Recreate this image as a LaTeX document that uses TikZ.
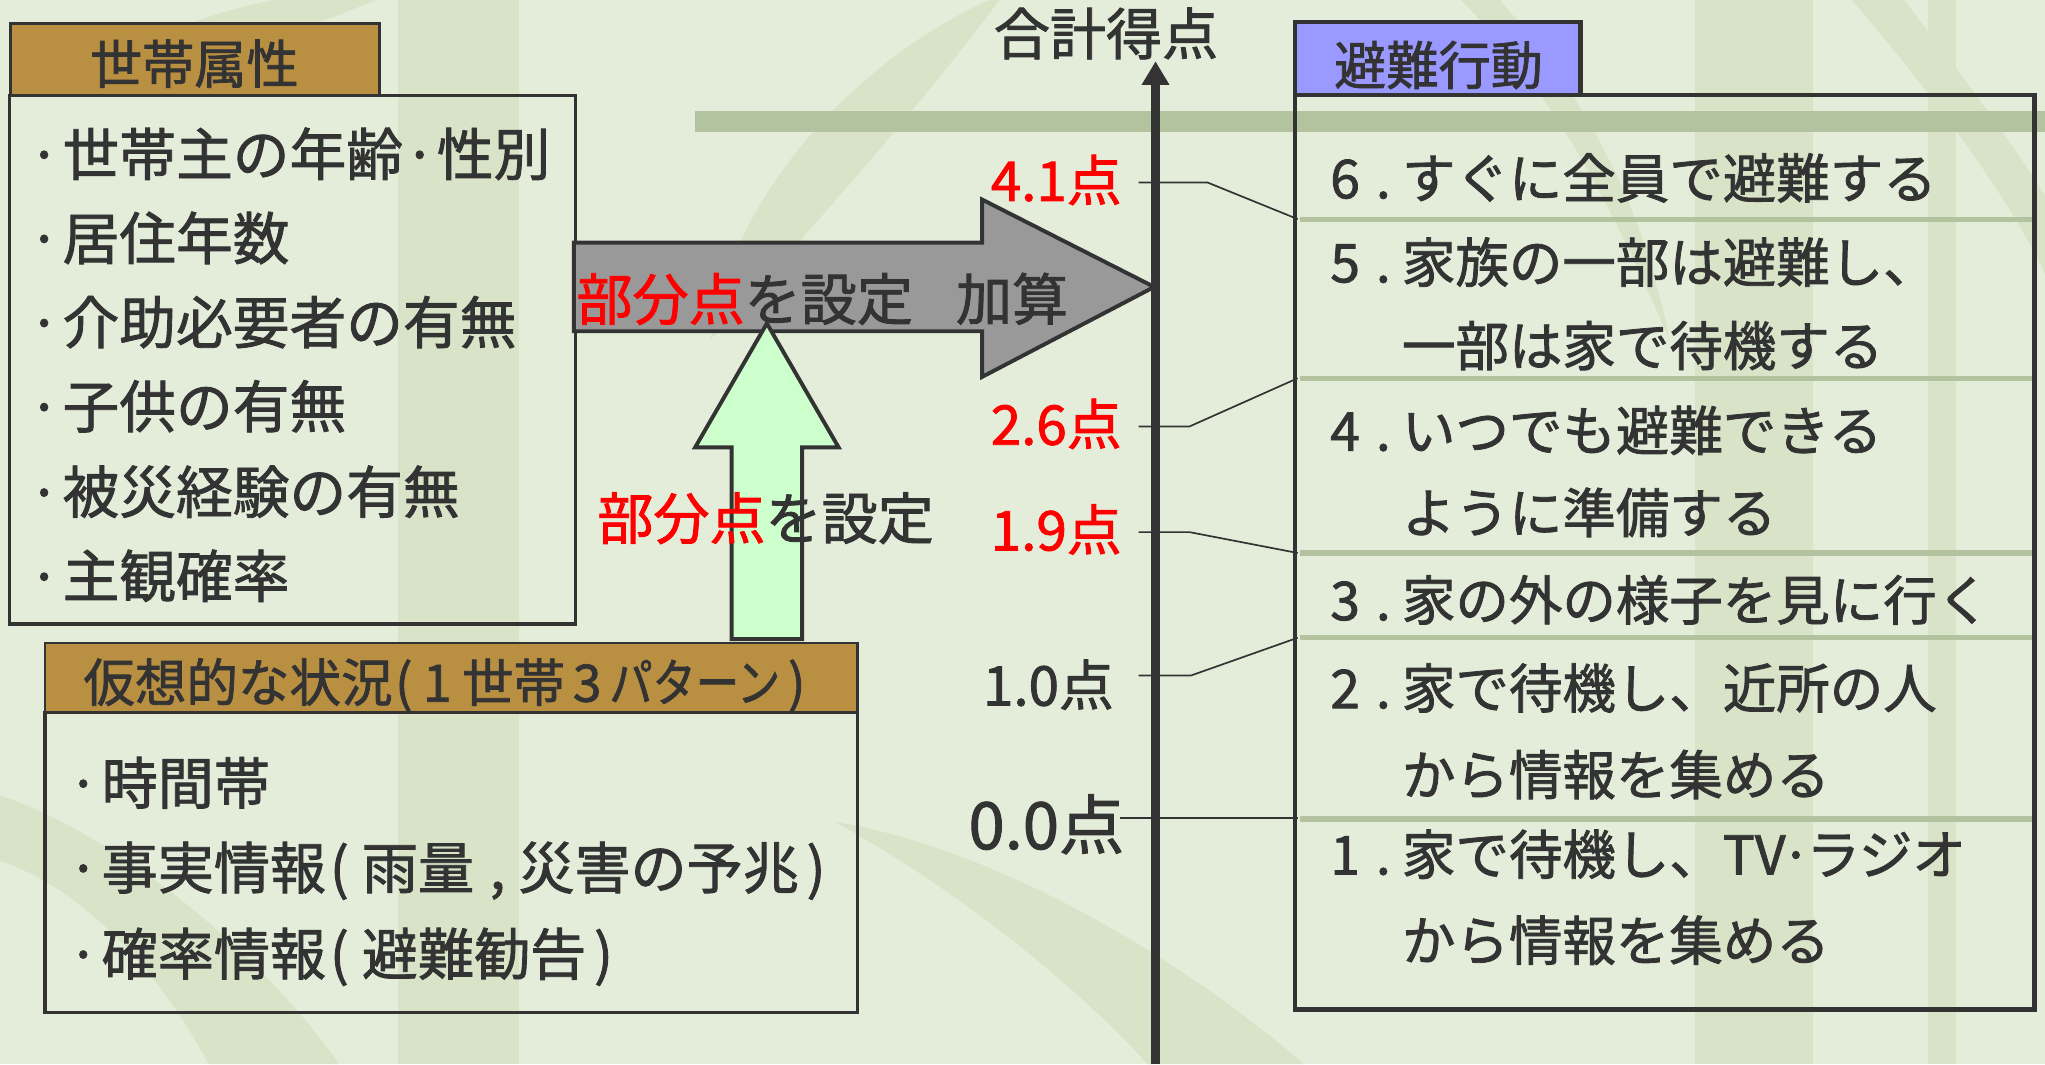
\documentclass[tikz,border=0pt]{standalone}
\usepackage{graphicx}
\usepackage{fontspec}
\setmainfont{Noto Sans CJK JP}[FakeBold=1.5]
\usetikzlibrary{arrows.meta}
\definecolor{bg}{HTML}{E4EDDA}
\definecolor{bamboo}{HTML}{D8E3C7}
\definecolor{band}{HTML}{B3C3A0}
\definecolor{ink}{HTML}{333333}
\definecolor{hdrbrown}{HTML}{B98F41}
\definecolor{hdrblue}{HTML}{9999FF}
\definecolor{arrgray}{HTML}{999999}
\definecolor{arrgreen}{HTML}{CCFFCC}
\newcommand\fsz[1]{\fontsize{#1pt}{#1pt}\selectfont}
\newcommand\rd[1]{\textcolor{red}{#1}}
\newcommand\dt{\makebox[16pt]{·}\hspace{6pt}}
\newcommand\md{\makebox[26pt]{·}}
\newcommand\rn[1]{\makebox[55pt][l]{\makebox[35pt][l]{#1}.}}
\begin{document}
\begin{tikzpicture}[x=1pt,y=-1pt,
  every node/.style={inner sep=0pt,outer sep=0pt,text=ink},
  hdrbox/.style={draw=ink,line width=2pt,anchor=north west},
  bodybox/.style={draw=ink,line width=2.5pt,anchor=north west},
  rbox/.style={draw=ink,line width=3.5pt,anchor=north west},
  item/.style={anchor=base west,font=\fsz{43.5}},
  itemb/.style={anchor=base west,font=\fsz{43}},
  rowtxt/.style={anchor=base west,font=\fsz{41}},
  score/.style={anchor=base east,font=\fsz{42}},
  sepline/.style={draw=band,line width=4pt},
  tickline/.style={draw=ink,line width=1.3pt},
  blockarrow/.style={draw=ink,line width=3pt,line join=miter}
]
\useasboundingbox (0,0) rectangle (1568,816);
\fill[bg] (0,0) rectangle (1568,816);
% faint bamboo decoration
\fill[bamboo] (305,0) rectangle (398,816);
\fill[bamboo] (1300,0) rectangle (1390,816);
\fill[bamboo] (1478,0) rectangle (1500,816);
\fill[bamboo] (60,60) .. controls (150,5) and (230,-10) .. (300,-5) .. controls (230,25) and (140,55) .. (60,60);
\fill[bamboo] (545,260) .. controls (560,150) and (660,40) .. (770,-5) .. controls (700,90) and (600,200) .. (545,260);
\fill[bamboo] (0,610) .. controls (90,640) and (200,730) .. (260,816) -- (160,816) .. controls (120,740) and (60,680) .. (0,660) -- cycle;
\fill[bamboo] (640,630) .. controls (760,650) and (900,730) .. (1000,816) -- (880,816) .. controls (820,750) and (730,680) .. (640,630);
\fill[bamboo] (1150,0) .. controls (1220,80) and (1260,160) .. (1280,260) .. controls (1240,170) and (1200,80) .. (1120,0) -- cycle;
\fill[bamboo] (1420,0) .. controls (1480,70) and (1540,150) .. (1568,210) -- (1568,150) .. controls (1530,90) and (1490,40) .. (1460,0) -- cycle;
% horizontal band
\fill[band] (533,85) rectangle (1568,101);
% boxes
\node[hdrbox,fill=hdrbrown,minimum width=283pt,minimum height=55pt] (attrhdr) at (8,18) {};
\node[bodybox,minimum width=434pt,minimum height=405pt] (attrbody) at (7.5,73.5) {};
\node[hdrbox,fill=hdrbrown,minimum width=623pt,minimum height=53.5pt] (sithdr) at (34.5,493) {};
\node[bodybox,minimum width=623pt,minimum height=230pt] (sitbody) at (34.5,546.5) {};
\node[rbox,fill=hdrblue,minimum width=219pt,minimum height=56pt] (acthdr) at (993,17) {};
\node[rbox,minimum width=567pt,minimum height=701pt] (actbody) at (993,73) {};
% separators in the action box
\foreach \yy/\nn in {168/a,290/b,424/c,489/d,628/e}{
  \coordinate (sl\nn) at (995,\yy);
  \coordinate (sr\nn) at (1558,\yy);
  \draw[sepline] (997,\yy) -- (sr\nn);
}
% block arrows
\draw[blockarrow,fill=arrgray] (440,186) -- (753,186) -- (753,153) -- (885,220) -- (753,289) -- (753,254) -- (440,254) -- cycle;
\draw[blockarrow,fill=arrgreen] (561,490) -- (561,343) -- (533,343) -- (588,248) -- (643,343) -- (615,343) -- (615,490) -- cycle;
% axis
\coordinate (axbot) at (886,816);
\coordinate (axtop) at (886,47);
\draw[draw=ink,line width=7pt,-{Triangle[width=20pt,length=18pt]}] (axbot) -- (axtop);
% score ticks
\coordinate (k41a) at (873,140); \coordinate (k41b) at (926,140);
\coordinate (k26a) at (873,327); \coordinate (k26b) at (912,327);
\coordinate (k19a) at (873,408); \coordinate (k19b) at (912,408);
\coordinate (k10a) at (873,518); \coordinate (k10b) at (913,518);
\coordinate (k00a) at (859,627); \coordinate (k00b) at (995,627);
\draw[tickline] (k41a) -- (k41b) -- (sla);
\draw[tickline] (k26a) -- (k26b) -- (slb);
\draw[tickline] (k19a) -- (k19b) -- (slc);
\draw[tickline] (k10a) -- (k10b) -- (sld);
\draw[tickline] (k00a) -- (k00b);
% texts: household attributes
\node[anchor=base,font=\fsz{40}] (attrtitle) at (149,64) {世帯属性};
\node[item] (a1) at (26,134.5) {\dt 世帯主の年齢\md 性別};
\node[item] (a2) at (26,199) {\dt 居住年数};
\node[item] (a3) at (26,263.5) {\dt 介助必要者の有無};
\node[item] (a4) at (26,328) {\dt 子供の有無};
\node[item] (a5) at (26,393.5) {\dt 被災経験の有無};
\node[item] (a6) at (26,458) {\dt 主観確率};
% situation box
\node[anchor=base west,font=\fsz{39.5}] (sittitle) at (64,538) {仮想的な状況\hspace{2pt}(\hspace{8pt}1\hspace{8pt}世帯\hspace{6pt}3\hspace{6pt}\scalebox{0.84}[1]{パターン}\hspace{6pt})};
\node[itemb] (b1) at (56,616.5) {\dt 時間帯};
\node[itemb] (b2) at (56,681.5) {\dt 事実情報\hspace{3pt}(\hspace{10pt}雨量\hspace{12pt},\hspace{10pt}災害の予兆\hspace{6pt})};
\node[itemb] (b3) at (56,747.5) {\dt 確率情報\hspace{3pt}(\hspace{10pt}避難勧告\hspace{6pt})};
% arrow labels
\node[anchor=base west,font=\fsz{43}] (addtxt) at (442,245.5) {\rd{部分点}を設定\hspace{33pt}加算};
\node[anchor=base west,font=\fsz{43}] (subtxt) at (458,413.5) {\rd{部分点}を設定};
% axis title and scores
\node[anchor=base,font=\fsz{43}] (total) at (848,42) {合計得点};
\node[score,text=red] (s41) at (860,154) {4.1点};
\node[score,text=red] (s26) at (860,341) {2.6点};
\node[score,text=red] (s19) at (860,422) {1.9点};
\node[score] (s10) at (854,541) {1.0点};
\node[score,font=\fsz{50}] (s00) at (862,651) {0.0点};
% action box
\node[anchor=base,font=\fsz{40}] (acttitle) at (1103,65) {避難行動};
\node[rowtxt] (r6) at (1020,152) {\rn{6}すぐに全員で避難する};
\node[rowtxt] (r5) at (1020,216.5) {\rn{5}家族の一部は避難し、};
\node[rowtxt] (r5b) at (1075,280.5) {一部は家で待機する};
\node[rowtxt] (r4) at (1020,345.5) {\rn{4}いつでも避難できる};
\node[rowtxt] (r4b) at (1075,408.5) {ように準備する};
\node[rowtxt] (r3) at (1020,475.5) {\rn{3}家の外の様子を見に行く};
\node[rowtxt] (r2) at (1020,543) {\rn{2}家で待機し、近所の人};
\node[rowtxt] (r2b) at (1075,609.5) {から情報を集める};
\node[rowtxt] (r1) at (1020,670.5) {\rn{1}家で待機し、TV\makebox[16pt]{·}ラジオ};
\node[rowtxt] (r1b) at (1075,736.5) {から情報を集める};
\end{tikzpicture}
\end{document}
